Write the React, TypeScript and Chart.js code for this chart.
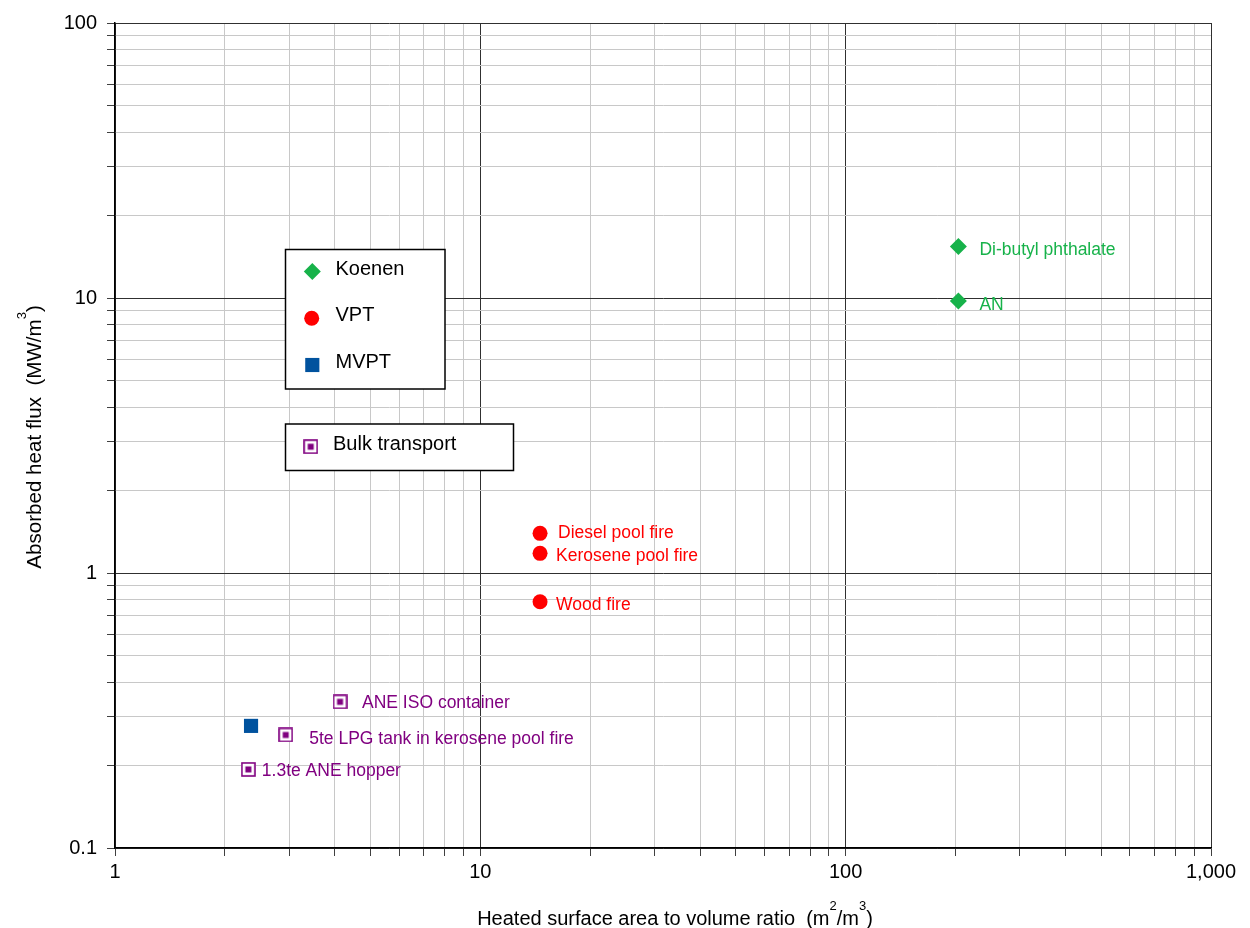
import React, { useEffect, useRef } from 'react';
import { Chart, registerables } from 'chart.js';

Chart.register(...registerables);

// ---------------- Data ----------------
const seriesNames = ['Koenen', 'VPT', 'MVPT', 'Bulk transport'];

const koenenLabels = ['Di-butyl phthalate', 'AN'];
const koenenX = [203.5, 203.5];
const koenenY = [15.4, 9.75];

const vptLabels = ['Diesel pool fire', 'Kerosene pool fire', 'Wood fire'];
const vptX = [14.57, 14.57, 14.57];
const vptY = [1.394, 1.179, 0.786];

const mvptLabels = [''];
const mvptX = [2.357];
const mvptY = [0.278];

const bulkLabels = ['ANE ISO container', '5te LPG tank in kerosene pool fire', '1.3te ANE hopper'];
const bulkX = [4.13, 2.933, 2.317];
const bulkY = [0.34, 0.2576, 0.1931];

const xTickValues = [1, 10, 100, 1000];
const xTickLabels = ['1', '10', '100', '1,000'];
const yTickValues = [0.1, 1, 10, 100];
const yTickLabels = ['0.1', '1', '10', '100'];

const xTitleMain = 'Heated surface area to volume ratio  (m';
const yTitleMain = 'Absorbed heat flux  (MW/m';

// label offsets (pixels, relative to marker centre)
const koenenLabelDx = [21, 21];
const koenenLabelDy = [3.5, 4];
const vptLabelDx = [18, 16, 16];
const vptLabelDy = [0, 2.5, 3.5];
const mvptLabelDx = [0];
const mvptLabelDy = [0];
const bulkLabelDx = [22, 23.5, 13.5];
const bulkLabelDy = [1, 4, 2];

// ---------------- Styles ----------------
const GREEN = '#17B24A';
const RED = '#FF0000';
const BLUE = '#00529E';
const PURPLE = '#800080';
const FONT = '"Liberation Sans", Arial, sans-serif';

function makeBulkImage(): HTMLCanvasElement {
  const c = document.createElement('canvas');
  c.width = 15;
  c.height = 15;
  const g = c.getContext('2d')!;
  g.fillStyle = '#ffffff';
  g.fillRect(0, 0, 15, 15);
  g.strokeStyle = PURPLE;
  g.lineWidth = 1.6;
  g.strokeRect(1, 1, 13, 13);
  g.fillStyle = PURPLE;
  g.fillRect(4.5, 4.5, 6, 6);
  return c;
}

function isMajor(v: number) {
  const l = Math.log10(v);
  return Math.abs(l - Math.round(l)) < 1e-6;
}

function logTicks(min: number, max: number) {
  const out: { value: number }[] = [];
  const e0 = Math.round(Math.log10(min));
  const e1 = Math.round(Math.log10(max));
  for (let e = e0; e < e1; e++) {
    for (let m = 1; m <= 9; m++) {
      out.push({ value: parseFloat((m * Math.pow(10, e)).toPrecision(6)) });
    }
  }
  out.push({ value: max });
  return out;
}

function labelFor(values: number[], labels: string[], v: number) {
  const i = values.findIndex((t) => Math.abs(t - v) / t < 1e-6);
  return i >= 0 ? labels[i] : '';
}

type Part = { t: string; sup?: boolean };

function drawRich(ctx: CanvasRenderingContext2D, parts: Part[], cx: number, baseline: number, size: number, supSize: number, raise: number) {
  const widths = parts.map((p) => {
    ctx.font = `${p.sup ? supSize : size}px ${FONT}`;
    return ctx.measureText(p.t).width;
  });
  const total = widths.reduce((a, b) => a + b, 0);
  let x = cx - total / 2;
  ctx.textAlign = 'left';
  ctx.textBaseline = 'alphabetic';
  parts.forEach((p, i) => {
    ctx.font = `${p.sup ? supSize : size}px ${FONT}`;
    ctx.fillText(p.t, x, p.sup ? baseline - raise : baseline);
    x += widths[i];
  });
}

function drawMarker(ctx: CanvasRenderingContext2D, style: any, x: number, y: number, color: string, r: number) {
  ctx.save();
  ctx.fillStyle = color;
  if (style === 'rectRot') {
    ctx.beginPath();
    ctx.moveTo(x - r, y);
    ctx.lineTo(x, y - r);
    ctx.lineTo(x + r, y);
    ctx.lineTo(x, y + r);
    ctx.closePath();
    ctx.fill();
  } else if (style === 'circle') {
    ctx.beginPath();
    ctx.arc(x, y, r, 0, Math.PI * 2);
    ctx.fill();
  } else if (style === 'rect') {
    const s = Math.SQRT1_2 * r;
    ctx.fillRect(x - s, y - s, 2 * s, 2 * s);
  } else if (style instanceof HTMLCanvasElement) {
    ctx.drawImage(style, x - style.width / 2, y - style.height / 2);
  }
  ctx.restore();
}

export default function App() {
  const ref = useRef<HTMLCanvasElement | null>(null);

  useEffect(() => {
    if (!ref.current) return;
    const bulkImg = makeBulkImage();

    const toPts = (xs: number[], ys: number[]) => xs.map((x, i) => ({ x, y: ys[i] }));

    const seriesStyles: any[] = ['rectRot', 'circle', 'rect', bulkImg];
    const seriesColors = [GREEN, RED, BLUE, PURPLE];
    const seriesRadius = [8.5, 7.5, 10, 7.5];
    const seriesLabels = [koenenLabels, vptLabels, mvptLabels, bulkLabels];
    const seriesDx = [koenenLabelDx, vptLabelDx, mvptLabelDx, bulkLabelDx];
    const seriesDy = [koenenLabelDy, vptLabelDy, mvptLabelDy, bulkLabelDy];
    const seriesData = [
      toPts(koenenX, koenenY),
      toPts(vptX, vptY),
      toPts(mvptX, mvptY),
      toPts(bulkX, bulkY),
    ];

    const datasets = seriesNames.map((name, i) => ({
      label: name,
      data: seriesData[i],
      pointStyle: seriesStyles[i],
      pointRadius: seriesRadius[i],
      pointHoverRadius: seriesRadius[i],
      backgroundColor: seriesColors[i],
      borderColor: seriesColors[i],
      borderWidth: 0,
      showLine: false,
    }));

    const overlayPlugin = {
      id: 'overlay',
      afterDatasetsDraw(chart: any) {
        const ctx: CanvasRenderingContext2D = chart.ctx;
        ctx.save();
        // point labels
        ctx.font = `17.5px ${FONT}`;
        ctx.textAlign = 'left';
        ctx.textBaseline = 'middle';
        chart.data.datasets.forEach((ds: any, i: number) => {
          const meta = chart.getDatasetMeta(i);
          meta.data.forEach((pt: any, j: number) => {
            const txt = seriesLabels[i][j];
            if (!txt) return;
            ctx.fillStyle = seriesColors[i];
            ctx.fillText(txt, pt.x + seriesDx[i][j], pt.y + seriesDy[i][j]);
          });
        });

        // legend boxes
        const box = (x0: number, y0: number, x1: number, y1: number) => {
          ctx.fillStyle = '#ffffff';
          ctx.fillRect(x0, y0, x1 - x0, y1 - y0);
          ctx.strokeStyle = '#000000';
          ctx.lineWidth = 1.5;
          ctx.strokeRect(x0, y0, x1 - x0, y1 - y0);
        };
        box(285.5, 249.5, 445, 389);
        box(285.5, 424, 513.5, 470.5);

        const legendItems = [
          { i: 0, mx: 312.3, my: 271.5, ty: 269 },
          { i: 1, mx: 311.7, my: 318.3, ty: 315.5 },
          { i: 2, mx: 312.3, my: 365, ty: 362 },
          { i: 3, mx: 310.7, my: 446.7, ty: 444 },
        ];
        legendItems.forEach((it) => {
          drawMarker(ctx, seriesStyles[it.i], it.mx, it.my, seriesColors[it.i], seriesRadius[it.i]);
          ctx.fillStyle = '#000000';
          ctx.font = `20px ${FONT}`;
          ctx.textAlign = 'left';
          ctx.textBaseline = 'middle';
          ctx.fillText(seriesNames[it.i], it.i === 3 ? 333 : 335.5, it.ty);
        });

        // axis titles
        ctx.fillStyle = '#000000';
        drawRich(ctx, [{ t: xTitleMain }, { t: '2', sup: true }, { t: '/m' }, { t: '3', sup: true }, { t: ')' }], 675, 925, 20, 13, 15);
        ctx.save();
        ctx.translate(0, 437);
        ctx.rotate(-Math.PI / 2);
        drawRich(ctx, [{ t: yTitleMain }, { t: '3', sup: true }, { t: ')' }], 0, 40.5, 20.6, 13, 15);
        ctx.restore();
        ctx.restore();
      },
    };

    const gridColor = (c: any) => (c.tick && isMajor(c.tick.value) ? '#303030' : '#c8c8c8');

    const chart = new Chart(ref.current, {
      type: 'scatter',
      data: { datasets } as any,
      options: {
        responsive: false,
        maintainAspectRatio: false,
        animation: false,
        events: [],
        layout: { padding: { left: 0, top: 23, right: 39, bottom: 0 } },
        plugins: {
          legend: { display: false },
          tooltip: { enabled: false },
          title: { display: false },
        },
        scales: {
          x: {
            type: 'logarithmic',
            min: 1,
            max: 1000,
            afterBuildTicks: (s: any) => {
              s.ticks = logTicks(1, 1000);
            },
            afterFit: (s: any) => {
              s.height = 80;
            },
            border: { display: true, color: '#000000', width: 1.5 },
            grid: { color: gridColor, lineWidth: 1, tickLength: 8, tickColor: '#404040', drawTicks: true },
            ticks: {
              autoSkip: false,
              maxRotation: 0,
              minRotation: 0,
              padding: 4,
              color: '#000000',
              font: { family: FONT, size: 20 },
              callback: (v: any) => labelFor(xTickValues, xTickLabels, Number(v)),
            },
          },
          y: {
            type: 'logarithmic',
            min: 0.1,
            max: 100,
            afterBuildTicks: (s: any) => {
              s.ticks = logTicks(0.1, 100);
            },
            afterFit: (s: any) => {
              s.width = 115;
            },
            border: { display: true, color: '#000000', width: 1.5 },
            grid: { color: gridColor, lineWidth: 1, tickLength: 8, tickColor: '#404040', drawTicks: true },
            ticks: {
              autoSkip: false,
              padding: 10,
              color: '#000000',
              font: { family: FONT, size: 20 },
              callback: (v: any) => labelFor(yTickValues, yTickLabels, Number(v)),
            },
          },
        },
      } as any,
      plugins: [overlayPlugin],
    });

    return () => chart.destroy();
  }, []);

  return (
    <div style={{ position: 'absolute', left: 0, top: 0, width: 1250, height: 928, background: '#ffffff' }}>
      <canvas ref={ref} width={1250} height={928} style={{ display: 'block' }} />
    </div>
  );
}
